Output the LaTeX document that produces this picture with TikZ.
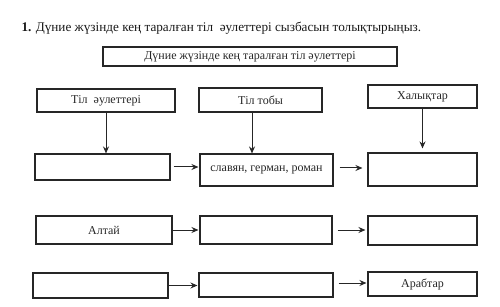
\documentclass[tikz,border=0pt]{standalone}
\usepackage{fontspec}
\setmainfont{Liberation Serif}
\usetikzlibrary{arrows.meta}
\begin{document}
\begin{tikzpicture}[x=1pt,y=-1pt,
  bx/.style={draw=black!85,line width=1.1pt,minimum width=#1,inner sep=0pt,font=\fontsize{12}{14}\selectfont,text=black!85},
  arr/.style={draw=black!85,line width=1pt,-{Stealth[length=7pt,width=6pt]}}]
\useasboundingbox (0,0) rectangle (500,307);
\node[anchor=west,font=\fontsize{13.2}{15}\selectfont,text=black!90] (title) at (18,28) {\textbf{1.} Дүние жүзінде кең таралған тіл\ \ әулеттері сызбасын толықтырыңыз.};
\node[bx=294pt,minimum height=19pt,line width=1.5pt] (top) at (250,56.5) {Дүние жүзінде кең таралған тіл әулеттері};
\node[bx=138pt,minimum height=23pt] (h1) at (106,100.5) {Тіл\ \ әулеттері};
\node[bx=123pt,minimum height=24pt] (h2) at (260.5,100) {Тіл тобы};
\node[bx=109pt,minimum height=23pt] (h3) at (422.5,96.5) {Халықтар};
\node[bx=135pt,minimum height=26pt] (r2a) at (102.5,167) {};
\node[bx=133pt,minimum height=32pt] (r2b) at (266.5,170) {славян, герман, роман};
\node[bx=109pt,minimum height=33pt] (r2c) at (422.5,169.5) {};
\node[bx=136pt,minimum height=28pt] (r3a) at (104,230) {Алтай};
\node[bx=132pt,minimum height=28pt] (r3b) at (266,230) {};
\node[bx=109pt,minimum height=29pt] (r3c) at (422.5,230.5) {};
\node[bx=135pt,minimum height=25pt] (r4a) at (100.5,285.5) {};
\node[bx=134pt,minimum height=24pt] (r4b) at (266,285) {};
\node[bx=109pt,minimum height=24pt] (r4c) at (422.5,284) {Арабтар};
\draw[arr] (h1.south) -- (h1.south |- r2a.north);
\draw[arr] ([xshift=-8.5pt]h2.south) -- ([xshift=-14.5pt]r2b.north);
\draw[arr,shorten >=4pt] (h3.south) -- (r2c.north);
\draw[arr,shorten <=3pt,shorten >=1pt] (r2a.east) -- (r2a.east -| r2b.west);
\draw[arr,shorten <=6pt,shorten >=5pt] ([yshift=2pt]r2b.east) -- ([yshift=1.5pt]r2c.west);
\draw[arr,shorten >=1pt] (r3a.east) -- (r3b.west);
\draw[arr,shorten <=5pt,shorten >=2pt] (r3b.east) -- (r3b.east -| r3c.west);
\draw[arr,shorten >=1pt] (r4a.east) -- (r4a.east -| r4b.west);
\draw[arr,shorten <=5pt,shorten >=1pt] ([yshift=2pt]r4b.east) -- ([yshift=1pt]r4c.west);
\end{tikzpicture}
\end{document}
